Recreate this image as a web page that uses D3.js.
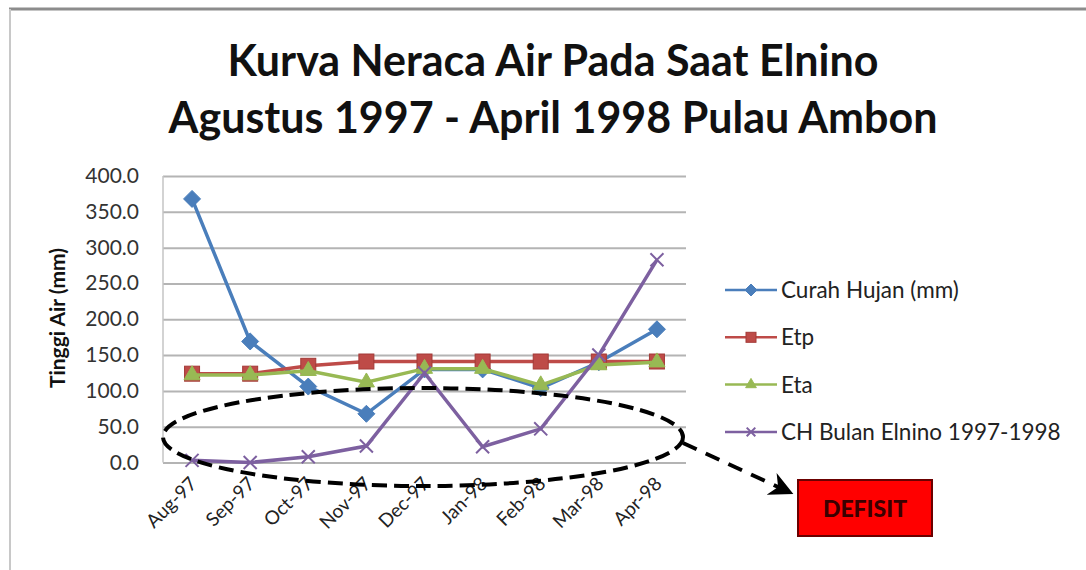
<!DOCTYPE html>
<html>
<head>
<meta charset="utf-8">
<script src="https://cdn.jsdelivr.net/npm/d3@7"></script>
<style>
  body { margin: 0; background: #fff; }
  text { font-family: Lato, "Open Sans", sans-serif; }
</style>
</head>
<body>
<div id="vizArea"></div>
<script>

var w = 1086
var h = 570

// DATA ********************************
var months = ["Aug-97", "Sep-97", "Oct-97", "Nov-97", "Dec-97", "Jan-98", "Feb-98", "Mar-98", "Apr-98"]
var curahHujan = [368, 169, 106, 68, 130, 130, 104, 140, 186]
var etp = [124, 124, 135, 141, 141, 141, 141, 141, 141]
var eta = [122, 122, 128, 112, 131, 131, 108, 136, 140]
var chElnino = [3, 0, 8, 23, 125, 22, 47, 150, 283]
var yTicks = [0, 50, 100, 150, 200, 250, 300, 350, 400]
var seriesNames = ["Curah Hujan (mm)", "Etp", "Eta", "CH Bulan Elnino 1997-1998"]
var titleLines = ["Kurva Neraca Air Pada Saat Elnino", "Agustus 1997 - April 1998 Pulau Ambon"]

var series = [
    {name: seriesNames[0], values: curahHujan, color: "#4a7ebb", marker: "diamond"},
    {name: seriesNames[1], values: etp, color: "#be4b48", marker: "square"},
    {name: seriesNames[2], values: eta, color: "#98b954", marker: "triangle"},
    {name: seriesNames[3], values: chElnino, color: "#7d60a0", marker: "cross"}
]

var svg = d3.select("#vizArea").append("svg")
    .attr("width", w)
    .attr("height", h);

// frame of the chart (only top and left show)
svg.append("line").attr("x1", 9).attr("x2", w).attr("y1", 9).attr("y2", 9)
    .attr("stroke", "#8c8c8c").attr("stroke-width", 3);
svg.append("line").attr("x1", 10).attr("x2", 10).attr("y1", 9).attr("y2", h)
    .attr("stroke", "#c8c8c8").attr("stroke-width", 2);

// title
svg.selectAll(".title")
    .data(titleLines)
    .enter()
    .append("text")
    .attr("class", "title")
    .attr("x", 553)
    .attr("y", function(d, i){ return 76 + i * 57; })
    .attr("text-anchor", "middle")
    .style("font-weight", "bold")
    .style("font-size", "43px")
    .attr("fill", "#111")
    .text(function(d){ return d; });

// SCALES ********************************
var x = d3.scalePoint().domain(months).range([163, 686]).padding(0.5);
var y = d3.scaleLinear().domain([0, 400]).range([462.5, 176]);

// gridlines
svg.append("g")
    .attr("transform", "translate(163,0)")
    .call(d3.axisLeft(y).tickValues(yTicks).tickSize(-523).tickFormat(""))
    .call(function(g){
        g.select(".domain").remove();
        g.selectAll("line").attr("stroke", "#b4b4b4").attr("stroke-width", 2);
    });

// y axis line + labels
svg.append("line").attr("x1", 163).attr("x2", 163).attr("y1", 176).attr("y2", 462.5)
    .attr("stroke", "#c4c4c4").attr("stroke-width", 1.5);

svg.append("g")
    .selectAll("text")
    .data(yTicks)
    .enter()
    .append("text")
    .attr("x", 139)
    .attr("y", function(d){ return y(d) + 7; })
    .attr("text-anchor", "end")
    .style("font-size", "21px")
    .attr("fill", "#333")
    .text(function(d){ return d3.format(".1f")(d); });

svg.append("text")
    .attr("transform", "translate(65,318) rotate(-90)")
    .attr("text-anchor", "middle")
    .style("font-weight", "bold")
    .style("font-size", "21px")
    .attr("fill", "#111")
    .text("Tinggi Air (mm)");

// x labels rotated
svg.append("g")
    .selectAll("text")
    .data(months)
    .enter()
    .append("text")
    .attr("transform", function(d){ return "translate(" + (x(d) + 6) + ",485) rotate(-45)"; })
    .attr("text-anchor", "end")
    .style("font-size", "19px")
    .attr("fill", "#222")
    .text(function(d){ return d; });

// MARKERS *********************************
function drawMarker(g, type, color, size){
    var r = size / 2;
    if (type == "diamond") {
        g.append("path").attr("d", "M0," + (-r-1) + "L" + (r+1) + ",0L0," + (r+1) + "L" + (-r-1) + ",0Z")
            .attr("fill", color).attr("stroke", color);
    } else if (type == "square") {
        g.append("rect").attr("x", -r).attr("y", -r)
            .attr("width", size).attr("height", size)
            .attr("fill", color).attr("stroke", "#a33a37").attr("stroke-width", 1);
    } else if (type == "triangle") {
        g.append("path").attr("d", d3.symbol(d3.symbolTriangle, size * size * 0.5)())
            .attr("fill", color).attr("stroke", color);
    } else {
        g.append("path").attr("d", d3.symbol(d3.symbolX, size * size * 0.5)())
            .attr("fill", "none").attr("stroke", color).attr("stroke-width", 2);
    }
}

var line = d3.line()
    .x(function(d, i){ return x(months[i]); })
    .y(function(d){ return y(d); });

series.forEach(function(s){
    svg.append("path")
        .datum(s.values)
        .attr("d", line)
        .attr("fill", "none")
        .attr("stroke", s.color)
        .attr("stroke-width", 3.5);

    svg.append("g")
        .selectAll("g")
        .data(s.values)
        .enter()
        .append("g")
        .attr("transform", function(d, i){ return "translate(" + x(months[i]) + "," + y(d) + ")"; })
        .each(function(){ drawMarker(d3.select(this), s.marker, s.color, 15); });
});

// LEGEND ***************************************
var legend = svg.append("g")
    .selectAll("g")
    .data(series)
    .enter()
    .append("g")
    .attr("transform", function(d, i){ return "translate(725," + (290 + i * 47.3) + ")"; });

legend.append("line")
    .attr("x1", 0).attr("x2", 52)
    .attr("stroke", function(d){ return d.color; })
    .attr("stroke-width", 2.5);

legend.each(function(d){
    var g = d3.select(this).append("g").attr("transform", "translate(26,0)");
    drawMarker(g, d.marker, d.color, 10);
});

legend.append("text")
    .attr("x", 56)
    .attr("y", 8)
    .style("font-size", "22.5px")
    .attr("fill", "#222")
    .text(function(d){ return d.name; });

// DEFISIT annotation ****************************
svg.append("ellipse")
    .attr("cx", 423).attr("cy", 437)
    .attr("rx", 260).attr("ry", 49)
    .attr("fill", "none")
    .attr("stroke", "#000")
    .attr("stroke-width", 4)
    .attr("stroke-dasharray", "15,7");

svg.append("defs").append("marker")
    .attr("id", "arrow")
    .attr("viewBox", "0 0 10 10")
    .attr("refX", 8).attr("refY", 5)
    .attr("markerWidth", 6).attr("markerHeight", 6)
    .attr("orient", "auto")
    .append("path")
    .attr("d", "M0,0 L10,5 L0,10 L3,5 Z")
    .attr("fill", "#000");

svg.append("line")
    .attr("x1", 683).attr("y1", 443)
    .attr("x2", 789).attr("y2", 492)
    .attr("stroke", "#000")
    .attr("stroke-width", 4)
    .attr("stroke-dasharray", "15,10")
    .attr("marker-end", "url(#arrow)");

svg.append("rect")
    .attr("x", 798).attr("y", 480)
    .attr("width", 134).attr("height", 56)
    .attr("fill", "#ff0000")
    .attr("stroke", "#6b0000")
    .attr("stroke-width", 2);

svg.append("text")
    .attr("x", 865).attr("y", 517)
    .attr("text-anchor", "middle")
    .style("font-weight", "900")
    .style("font-size", "23px")
    .attr("fill", "#3a0000")
    .text("DEFISIT");

</script>
</body>
</html>
